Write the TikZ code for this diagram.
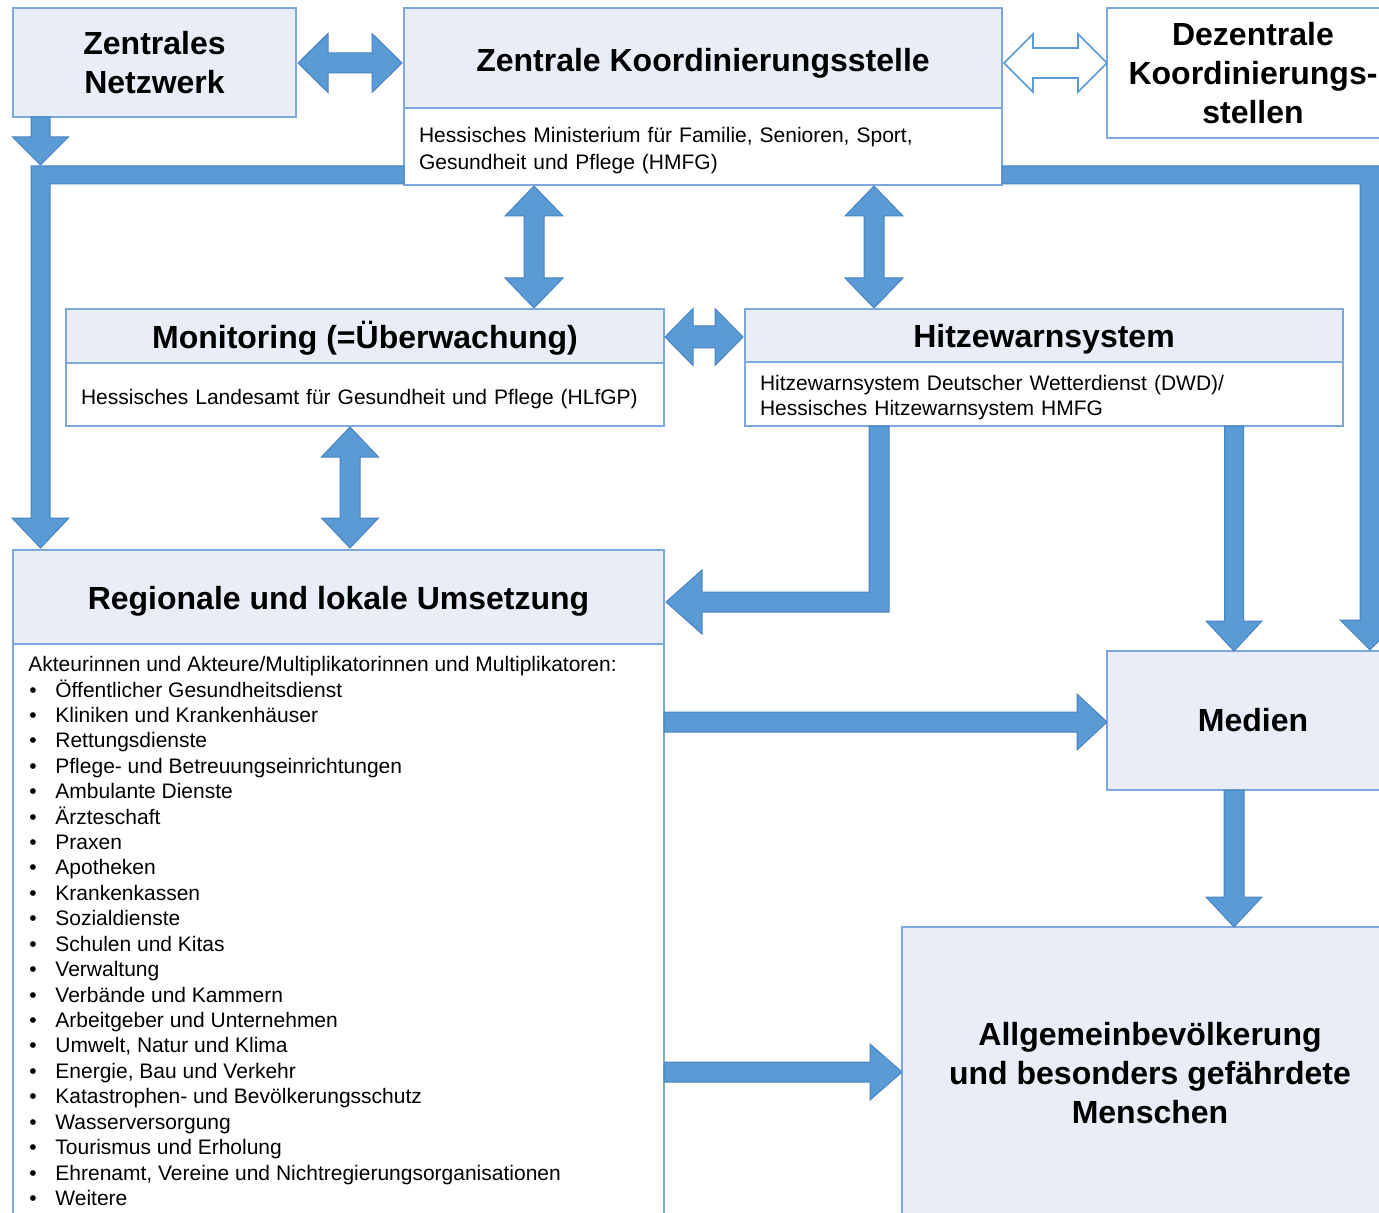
\documentclass[tikz,border=0pt]{standalone}
\usepackage{fontspec}
\setmainfont{Liberation Sans}
\usetikzlibrary{calc}
\definecolor{boxfill}{HTML}{E9EDF7}
\definecolor{boxline}{HTML}{7EA8DC}
\definecolor{arrfill}{HTML}{5B9BD5}
\definecolor{arrline}{HTML}{4A84C0}
\newcommand\titlefont{\fontsize{16}{19.3}\selectfont\bfseries}
\newcommand\smallfont{\fontsize{10.5}{13}\selectfont}
\newcommand\listfont{\fontsize{10.5}{12.71}\selectfont}
\newcommand\blt{\makebox[13.5pt][l]{\hspace{0.5pt}\textbullet}}
\newcommand\topstrut[1]{\rule{0pt}{#1}}
\newcommand\botstrut{\rule[-3pt]{0pt}{3pt}}
% horizontal double arrow: #2 left tip, #3 right tip, #4 shaft half, #5 head half, #6 head length
\newcommand\dHarrow[6]{\draw[#1] let \p1=#2, \p2=#3 in (\x1,\y1) -- (\x1+#6,\y1+#5) -- (\x1+#6,\y1+#4) -- (\x2-#6,\y1+#4) -- (\x2-#6,\y1+#5) -- (\x2,\y1) -- (\x2-#6,\y1-#5) -- (\x2-#6,\y1-#4) -- (\x1+#6,\y1-#4) -- (\x1+#6,\y1-#5) -- cycle;}
% vertical double arrow: #2 top tip, #3 bottom tip
\newcommand\dVarrow[6]{\draw[#1] let \p1=#2, \p2=#3 in (\x1,\y1) -- (\x1+#5,\y1-#6) -- (\x1+#4,\y1-#6) -- (\x1+#4,\y2+#6) -- (\x1+#5,\y2+#6) -- (\x1,\y2) -- (\x1-#5,\y2+#6) -- (\x1-#4,\y2+#6) -- (\x1-#4,\y1-#6) -- (\x1-#5,\y1-#6) -- cycle;}
% down arrow: #2 tail, #3 tip
\newcommand\dnarrow[6]{\draw[#1] let \p1=#2, \p2=#3 in (\x1-#4,\y1) -- (\x1-#4,\y2+#6) -- (\x1-#5,\y2+#6) -- (\x1,\y2) -- (\x1+#5,\y2+#6) -- (\x1+#4,\y2+#6) -- (\x1+#4,\y1) -- cycle;}
% right arrow: #2 tail, #3 tip
\newcommand\rtarrow[6]{\draw[#1] let \p1=#2, \p2=#3 in (\x1,\y1+#4) -- (\x2-#6,\y1+#4) -- (\x2-#6,\y1+#5) -- (\x2,\y1) -- (\x2-#6,\y1-#5) -- (\x2-#6,\y1-#4) -- (\x1,\y1-#4) -- cycle;}
\tikzset{
  box/.style={draw=boxline, fill=boxfill, line width=0.8pt, inner sep=0pt, outer sep=0pt, align=center, font=\titlefont},
  wbox/.style={box, fill=white},
  onetitle/.style={text depth=0pt, text height=#1},
  subbox/.style={wbox, font=\smallfont, align=left, inner xsep=7.5pt},
  arr/.style={fill=arrfill, draw=arrline, line width=0.5pt, line join=miter},
  harr/.style={fill=white, draw=arrfill, line width=0.8pt, line join=miter},
}
\begin{document}
\begin{tikzpicture}[x=0.5pt, y=-0.5pt]
\useasboundingbox (0,0) rectangle (1379,1213);
\clip (0,0) rectangle (1379,1213);
% boxes
\node[box, minimum width=141.5pt, minimum height=54.5pt] (zn) at (154.5,62.5) {Zentrales\\Netzwerk};
\node[box, onetitle=13.4pt, minimum width=299pt, minimum height=50pt] (zkh) at (703,58) {Zentrale Koordinierungsstelle};
\node[subbox, font={\fontsize{10.5}{13.5}\selectfont}, text width=284pt, minimum height=38.5pt] (zkl) at (703,146.5) {\topstrut{12.5pt}Hessisches Ministerium für Familie, Senioren, Sport,\\Gesundheit und Pflege (HMFG)\botstrut};
\node[wbox, minimum width=146pt, minimum height=65pt] (dz) at (1253,73) {Dezentrale\\Koordinierungs-\\stellen};
\node[box, onetitle=13pt, minimum width=299pt, minimum height=27pt] (monh) at (365,336) {Monitoring (=Überwachung)};
\node[subbox, text height=13pt, text depth=3pt, text width=284pt, minimum height=31.5pt] (monl) at (365,394.5) {Hessisches Landesamt für Gesundheit und Pflege (HLfGP)};
\node[box, onetitle=12.2pt, minimum width=299pt, minimum height=26.5pt] (hzh) at (1044,335.5) {Hitzewarnsystem};
\node[subbox, font={\fontsize{10.5}{12.5}\selectfont}, text width=284pt, minimum height=32pt] (hzl) at (1044,394) {\topstrut{12pt}Hitzewarnsystem Deutscher Wetterdienst (DWD)/\\Hessisches Hitzewarnsystem HMFG\botstrut};
\node[box, onetitle=12.4pt, minimum width=325.5pt, minimum height=47pt] (regh) at (338.5,597) {Regionale und lokale Umsetzung};
\node[wbox, minimum width=325.5pt, minimum height=290.5pt] (regl) at (338.5,934.5) {};
\node[anchor=north west, inner sep=0pt, align=left, font=\listfont] (reglist) at (28,656) {Akteurinnen und Akteure/Multiplikatorinnen und Multiplikatoren:\\
\blt Öffentlicher Gesundheitsdienst\\
\blt Kliniken und Krankenhäuser\\
\blt Rettungsdienste\\
\blt Pflege- und Betreuungseinrichtungen\\
\blt Ambulante Dienste\\
\blt Ärzteschaft\\
\blt Praxen\\
\blt Apotheken\\
\blt Krankenkassen\\
\blt Sozialdienste\\
\blt Schulen und Kitas\\
\blt Verwaltung\\
\blt Verbände und Kammern\\
\blt Arbeitgeber und Unternehmen\\
\blt Umwelt, Natur und Klima\\
\blt Energie, Bau und Verkehr\\
\blt Katastrophen- und Bevölkerungsschutz\\
\blt Wasserversorgung\\
\blt Tourismus und Erholung\\
\blt Ehrenamt, Vereine und Nichtregierungsorganisationen\\
\blt Weitere};
\node[box, minimum width=146pt, minimum height=69.5pt] (med) at (1253,720.5) {Medien};
\node[box, minimum width=248pt, minimum height=146pt] (allg) at (1150,1073) {Allgemeinbevölkerung\\und besonders gefährdete\\Menschen};
\coordinate (bar1) at (40.5,165);
% straight arrows
\dHarrow{arr}{($(zn.east)+(2,0.5)$)}{($(zkh.west |- zn.east)+(-2,0.5)$)}{5pt}{14.75pt}{15pt}
\dHarrow{harr}{($(zkh.east |- zn.east)+(2,0.5)$)}{($(dz.west |- zn.east)+(0,0.5)$)}{7.5pt}{14.5pt}{14.5pt}
\dnarrow{arr}{($(zn.south west)+(27.5,0)$)}{(bar1)}{4.75pt}{14pt}{14pt}
\dVarrow{arr}{($(534,0 |- zkl.south)+(0,1)$)}{($(534,0 |- monh.north)+(0,-1)$)}{5pt}{14.5pt}{15pt}
\dVarrow{arr}{($(874,0 |- zkl.south)+(0,1)$)}{($(874,0 |- hzh.north)+(0,-1)$)}{5pt}{14.5pt}{15pt}
\dHarrow{arr}{($(monh.east)+(1,1)$)}{($(hzh.west |- monh.east)+(-2,1)$)}{5.5pt}{14.25pt}{14pt}
\dVarrow{arr}{($(350,0 |- monl.south)+(0,1)$)}{($(350,0 |- regh.north)+(0,-2)$)}{5pt}{14.25pt}{15pt}
\dnarrow{arr}{(1234,0 |- hzl.south)}{(1234,0 |- med.north)}{4.75pt}{14pt}{15pt}
\rtarrow{arr}{($(regl.east |- med.west)+(0,1.5)$)}{($(med.west)+(0,1.5)$)}{5pt}{14pt}{15pt}
\rtarrow{arr}{($(regl.east |- allg.west)+(0,-1)$)}{($(allg.west)+(0,-1)$)}{5pt}{14pt}{16pt}
\dnarrow{arr}{(1234,0 |- med.south)}{(1234,0 |- allg.north)}{5pt}{14pt}{15pt}
% bent arrows
\draw[arr] (404,166) -- (31,166) -- (31,518) -- (12,518) -- (40.5,548) -- (69,518) -- (50,518) -- (50,184) -- (404,184) -- cycle;
\draw[arr] (1002,166) -- (1380,166) -- (1380,620) -- (1400,620) -- (1370,650) -- (1340,620) -- (1360,620) -- (1360,184) -- (1002,184) -- cycle;
\draw[arr] (869,426) -- (889,426) -- (889,612) -- (702,612) -- (702,634) -- (666,602) -- (702,570) -- (702,592) -- (869,592) -- cycle;
\end{tikzpicture}
\end{document}
